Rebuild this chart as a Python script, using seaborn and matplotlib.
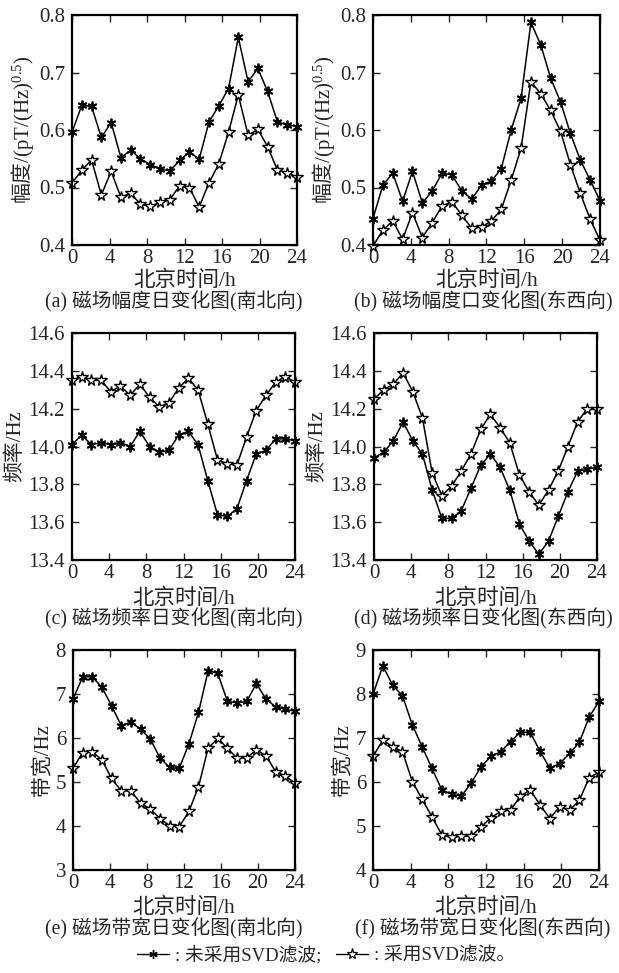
import numpy as np
import pandas as pd
import matplotlib
matplotlib.use("Agg")
import matplotlib.pyplot as plt
from matplotlib.lines import Line2D
import seaborn as sns

# ---------------- data ----------------
hours = np.linspace(0, 24, 24)

amp_ns_raw = [0.596, 0.643, 0.641, 0.587, 0.613, 0.552, 0.565, 0.550, 0.540, 0.532, 0.529, 0.547,
              0.562, 0.549, 0.614, 0.642, 0.672, 0.761, 0.684, 0.707, 0.667, 0.614, 0.609, 0.606]
amp_ns_svd = [0.508, 0.530, 0.548, 0.487, 0.528, 0.483, 0.490, 0.471, 0.467, 0.474, 0.479, 0.503,
              0.500, 0.466, 0.508, 0.541, 0.596, 0.661, 0.591, 0.601, 0.571, 0.530, 0.526, 0.518]
amp_ew_raw = [0.446, 0.504, 0.525, 0.476, 0.528, 0.473, 0.494, 0.525, 0.522, 0.494, 0.480, 0.504,
              0.511, 0.533, 0.600, 0.655, 0.787, 0.748, 0.690, 0.649, 0.594, 0.548, 0.513, 0.477]
amp_ew_svd = [0.398, 0.426, 0.442, 0.410, 0.456, 0.413, 0.439, 0.468, 0.475, 0.452, 0.429, 0.431,
              0.442, 0.462, 0.513, 0.568, 0.684, 0.663, 0.634, 0.598, 0.540, 0.490, 0.445, 0.408]

freq_ns_raw = [14.01, 14.06, 14.01, 14.02, 14.01, 14.02, 14.00, 14.08, 14.00, 13.97, 13.98, 14.06,
               14.08, 14.01, 13.82, 13.64, 13.63, 13.67, 13.82, 13.96, 13.98, 14.04, 14.04, 14.03]
freq_ns_svd = [14.35, 14.37, 14.35, 14.35, 14.29, 14.32, 14.27, 14.33, 14.26, 14.21, 14.23, 14.31,
               14.36, 14.30, 14.12, 13.93, 13.91, 13.90, 14.05, 14.19, 14.27, 14.34, 14.37, 14.34]
freq_ew_raw = [13.94, 13.97, 14.03, 14.13, 14.03, 13.96, 13.77, 13.62, 13.62, 13.66, 13.78, 13.90,
               13.96, 13.89, 13.77, 13.59, 13.50, 13.43, 13.50, 13.63, 13.76, 13.87, 13.88, 13.89]
freq_ew_svd = [14.25, 14.30, 14.33, 14.39, 14.29, 14.15, 13.86, 13.74, 13.79, 13.87, 13.96, 14.09,
               14.17, 14.10, 14.02, 13.85, 13.76, 13.69, 13.77, 13.87, 14.00, 14.13, 14.20, 14.20]

bw_ns_raw = [6.88, 7.39, 7.39, 7.15, 6.73, 6.28, 6.36, 6.20, 5.98, 5.55, 5.33, 5.31,
             5.86, 6.58, 7.53, 7.47, 6.83, 6.80, 6.83, 7.24, 6.88, 6.71, 6.65, 6.61]
bw_ns_svd = [5.31, 5.67, 5.69, 5.50, 5.08, 4.80, 4.80, 4.52, 4.39, 4.17, 4.01, 3.98,
             4.33, 4.89, 5.77, 5.99, 5.77, 5.54, 5.55, 5.73, 5.60, 5.23, 5.14, 4.97]
bw_ew_raw = [7.99, 8.64, 8.20, 7.96, 7.30, 6.80, 6.31, 5.82, 5.72, 5.68, 5.98, 6.35,
             6.58, 6.69, 6.92, 7.13, 7.13, 6.70, 6.31, 6.42, 6.65, 6.90, 7.48, 7.83]
bw_ew_svd = [6.58, 6.95, 6.80, 6.69, 6.01, 5.61, 5.21, 4.80, 4.74, 4.77, 4.77, 4.98,
             5.19, 5.33, 5.36, 5.68, 5.82, 5.48, 5.17, 5.44, 5.36, 5.58, 6.10, 6.22]

xticks = [0, 4, 8, 12, 16, 20, 24]
xlabel = "北京时间/h"
amp_label = r"$\mathsf{幅度}$/(pT/(Hz)$^{0.5}$)"
ylabels = [amp_label, amp_label, "频率/Hz", "频率/Hz", "带宽/Hz", "带宽/Hz"]
captions = ["(a) 磁场幅度日变化图(南北向)", "(b) 磁场幅度口变化图(东西向)",
            "(c) 磁场频率日变化图(南北向)", "(d) 磁场频率日变化图(东西向)",
            "(e) 磁场带宽日变化图(南北向)", "(f) 磁场带宽日变化图(东西向)"]
ylims = [(0.4, 0.8), (0.4, 0.8), (13.4, 14.6), (13.4, 14.6), (3, 8), (4, 9)]
yticks = [[0.4, 0.5, 0.6, 0.7, 0.8], [0.4, 0.5, 0.6, 0.7, 0.8],
          [13.4, 13.6, 13.8, 14.0, 14.2, 14.4, 14.6], [13.4, 13.6, 13.8, 14.0, 14.2, 14.4, 14.6],
          [3, 4, 5, 6, 7, 8], [4, 5, 6, 7, 8, 9]]
yfmts = ["{:.1f}", "{:.1f}", "{:.1f}", "{:.1f}", "{:.0f}", "{:.0f}"]
series = [(amp_ns_raw, amp_ns_svd), (amp_ew_raw, amp_ew_svd),
          (freq_ns_raw, freq_ns_svd), (freq_ew_raw, freq_ew_svd),
          (bw_ns_raw, bw_ns_svd), (bw_ew_raw, bw_ew_svd)]
legend_labels = [": 未采用SVD滤波;", ": 采用SVD滤波。"]

# ---------------- style ----------------
sns.set_style("ticks")
FAM = ["Liberation Serif", "Noto Sans CJK SC"]
plt.rcParams["font.family"] = FAM
plt.rcParams["mathtext.fontset"] = "custom"
plt.rcParams["mathtext.rm"] = "Liberation Serif"
plt.rcParams["mathtext.it"] = "Liberation Serif"
plt.rcParams["mathtext.sf"] = "Noto Sans CJK SC"
plt.rcParams["axes.unicode_minus"] = False

W, H = 619, 973
fig = plt.figure(figsize=(W / 100, H / 100), dpi=100)

# axes boxes in pixels: (left, right, top, bottom)
boxes = [(72, 297, 15, 245), (373, 600, 15, 245),
         (72, 295, 333, 560), (374, 597, 333, 560),
         (73, 295, 650, 870), (373, 599, 650, 870)]
xl_pad = [2, 2, 4, 4, 3, 3]
cap_y = [302, 302, 619, 619, 929, 929]
cap_x = [174, 483, 174, 483, 174, 483]

ASTER = (6, 2, 0)
for i, (l, r, t, b) in enumerate(boxes):
    ax = fig.add_axes([l / W, 1 - b / H, (r - l) / W, (b - t) / H])
    raw, svd = series[i]
    df = pd.DataFrame({"h": hours, "raw": raw, "svd": svd})
    sns.lineplot(data=df, x="h", y="raw", ax=ax, color="black", lw=1.1,
                 marker=ASTER, markersize=7, markeredgewidth=1.3,
                 markeredgecolor="black", markerfacecolor="black", clip_on=False)
    sns.lineplot(data=df, x="h", y="svd", ax=ax, color="black", lw=1.1,
                 marker="*", markersize=8.5, markeredgewidth=1.0,
                 markeredgecolor="black", markerfacecolor="white", clip_on=False)
    ax.set_xlim(0, 24)
    ax.set_ylim(*ylims[i])
    ax.set_xticks(xticks)
    ax.set_xticklabels([str(v) for v in xticks])
    ax.set_yticks(yticks[i])
    ax.set_yticklabels([yfmts[i].format(v) for v in yticks[i]])
    ax.tick_params(direction="in", top=True, right=True, length=5, width=1,
                   labelsize=15)
    ax.tick_params(axis="x", pad=3)
    ax.tick_params(axis="y", pad=5)
    for s in ax.spines.values():
        s.set_linewidth(1.6)
        s.set_color("black")
    ax.set_xlabel(xlabel, fontsize=15.5, labelpad=xl_pad[i], family=FAM, fontweight="medium")
    ax.set_ylabel(ylabels[i], fontsize=15, labelpad=2, family=FAM, fontweight="medium")
    fig.text(cap_x[i] / W, 1 - cap_y[i] / H, captions[i], ha="center", va="center",
             fontsize=14.2, family=FAM, fontweight="medium")

handles = [Line2D([], [], color="black", lw=1.0, marker=ASTER, markersize=6,
                  markeredgewidth=1.0, markerfacecolor="black"),
           Line2D([], [], color="black", lw=1.0, marker="*", markersize=8,
                  markeredgewidth=0.9, markerfacecolor="white")]
fig.legend(handles, legend_labels, loc="center", bbox_to_anchor=(326 / W, 1 - 955 / H),
           ncol=2, frameon=False, handlelength=1.7, handletextpad=0.3, columnspacing=0.8,
           prop={"family": FAM, "size": 13.5, "weight": "medium"})

fig.savefig("out.png", dpi=100)
